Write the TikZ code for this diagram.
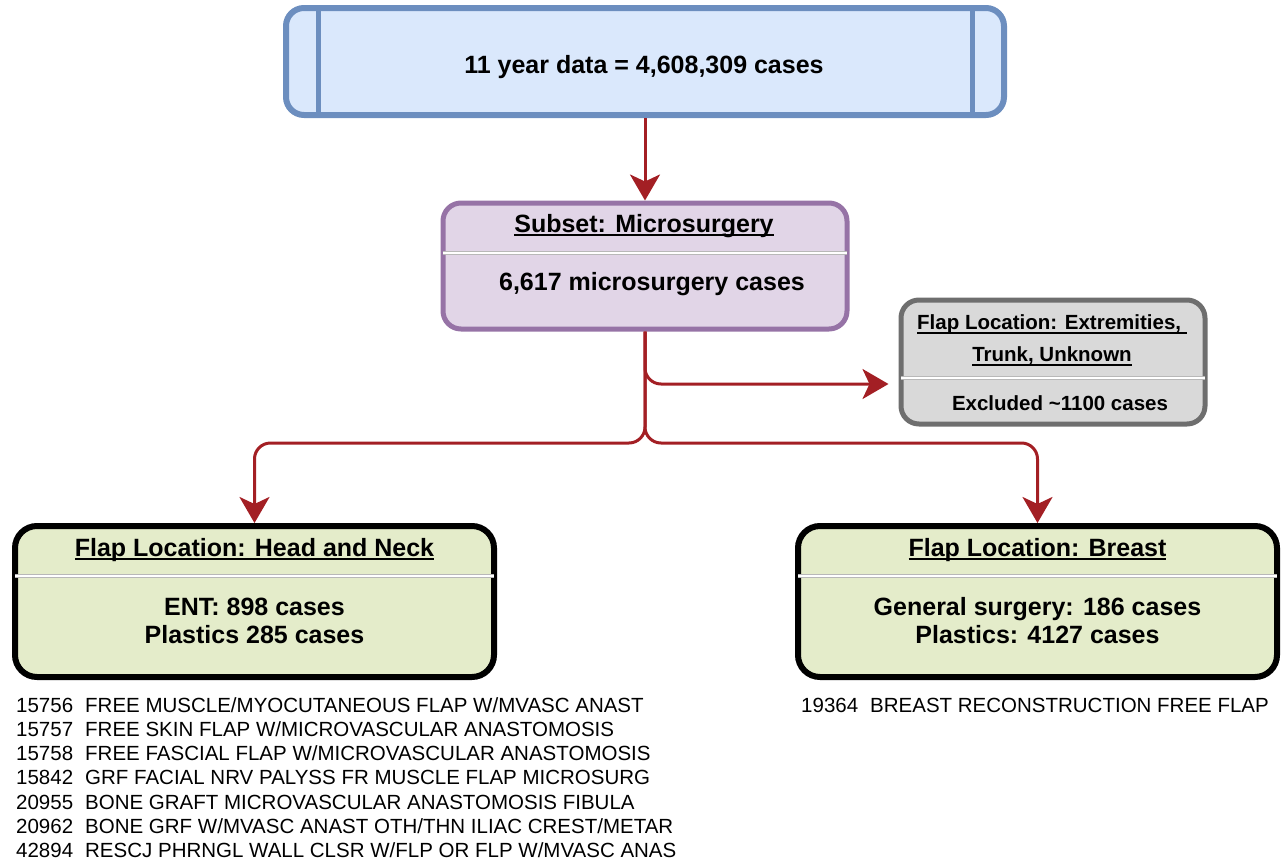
\documentclass[tikz,border=0pt]{standalone}
\usepackage{fontspec}
\setmainfont{Liberation Sans}
\usetikzlibrary{arrows.meta}
\definecolor{bluefill}{HTML}{DAE8FC}
\definecolor{bluedraw}{HTML}{6C8EBF}
\definecolor{purfill}{HTML}{E1D5E7}
\definecolor{purdraw}{HTML}{9673A6}
\definecolor{grayfill}{HTML}{D9D9D9}
\definecolor{graydraw}{HTML}{6E6E6E}
\definecolor{grnfill}{HTML}{E4ECCA}
\definecolor{arrred}{HTML}{A31F24}
\newcommand\myul[1]{\leavevmode\setbox0\hbox{#1}\rlap{\rule[-4pt]{\wd0}{2pt}}\box0}
\tikzset{
  box/.style={rectangle, inner sep=0pt},
  bigtxt/.style={inner sep=0pt, font=\fontsize{25}{30}\selectfont\bfseries},
  midtxt/.style={inner sep=0pt, font=\fontsize{20.5}{24}\selectfont\bfseries},
  listtxt/.style={inner sep=0pt, anchor=base west, font=\fontsize{20.5}{24}\selectfont},
  sepgray/.style={line width=3.5pt, draw=black!28},
  sepwhite/.style={line width=1.2pt, draw=white},
  arr/.style={draw=arrred, line width=3pt, rounded corners=16pt,
    -{Stealth[length=26pt,width=30pt,inset=7pt]}},
}
\begin{document}
\begin{tikzpicture}[x=1pt,y=-1pt]
\useasboundingbox (0,0) rectangle (1283,865);

% top box
\node[box, fill=bluefill, draw=bluedraw, line width=6pt, rounded corners=18pt,
  minimum width=718pt, minimum height=107pt] (top) at (645,61.5) {};
\draw[bluedraw, line width=5pt] ([xshift=35pt]top.north west) -- ([xshift=35pt]top.south west);
\draw[bluedraw, line width=5pt] ([xshift=-35pt]top.north east) -- ([xshift=-35pt]top.south east);
\node[bigtxt, anchor=base] (toptxt) at (644,73) {11 year data = 4,608,309 cases};

% purple box
\node[box, fill=purfill, draw=purdraw, line width=5pt, rounded corners=18pt,
  minimum width=404pt, minimum height=126pt] (pur) at (645,266) {};
\draw[sepgray] (443,253) -- (847,253);
\draw[sepwhite] (443,253) -- (847,253);
\node[bigtxt, anchor=base] (purtitle) at (644,232) {\myul{Subset: Microsurgery}};
\node[bigtxt, anchor=base] (purbody) at (652,290) {6,617 microsurgery cases};

% gray box
\node[box, fill=grayfill, draw=graydraw, line width=5pt, rounded corners=18pt,
  minimum width=304pt, minimum height=124pt] (gray) at (1053,362) {};
\draw[sepgray] (901,378) -- (1205,378);
\draw[sepwhite] (901,378) -- (1205,378);
\node[midtxt, anchor=base] (graytitleA) at (1052,329.5) {\myul{Flap Location: Extremities,\ }};
\node[midtxt, anchor=base] (graytitleB) at (1052,361.5) {\myul{Trunk, Unknown}};
\node[midtxt, anchor=base] (graybody) at (1060,410.5) {Excluded \textasciitilde1100 cases};

% left green box
\node[box, fill=grnfill, draw=black, line width=6pt, rounded corners=22pt,
  minimum width=479pt, minimum height=151pt] (hn) at (254.5,601.5) {};
\draw[sepgray] (15,576) -- (494,576);
\draw[sepwhite] (15,576) -- (494,576);
\node[bigtxt, anchor=base] (hntitle) at (254.5,556) {\myul{Flap Location: Head and Neck}};
\node[bigtxt, anchor=base] (hnbodyA) at (254.5,615) {ENT: 898 cases};
\node[bigtxt, anchor=base] (hnbodyB) at (254.5,643) {Plastics 285 cases};

% right green box
\node[box, fill=grnfill, draw=black, line width=6pt, rounded corners=22pt,
  minimum width=479pt, minimum height=151pt] (br) at (1037.5,601.5) {};
\draw[sepgray] (798,576) -- (1277,576);
\draw[sepwhite] (798,576) -- (1277,576);
\node[bigtxt, anchor=base] (brtitle) at (1037.5,556) {\myul{Flap Location: Breast}};
\node[bigtxt, anchor=base] (brbodyA) at (1037.5,615) {General surgery: 186 cases};
\node[bigtxt, anchor=base] (brbodyB) at (1037.5,643) {Plastics: 4127 cases};

% code lists
\foreach \t [count=\i] in {
  {15756\hspace{12pt}FREE MUSCLE/MYOCUTANEOUS FLAP W/MVASC ANAST},
  {15757\hspace{12pt}FREE SKIN FLAP W/MICROVASCULAR ANASTOMOSIS},
  {15758\hspace{12pt}FREE FASCIAL FLAP W/MICROVASCULAR ANASTOMOSIS},
  {15842\hspace{12pt}GRF FACIAL NRV PALYSS FR MUSCLE FLAP MICROSURG},
  {20955\hspace{12pt}BONE GRAFT MICROVASCULAR ANASTOMOSIS FIBULA},
  {20962\hspace{12pt}BONE GRF W/MVASC ANAST OTH/THN ILIAC CREST/METAR},
  {42894\hspace{12pt}RESCJ PHRNGL WALL CLSR W/FLP OR FLP W/MVASC ANAS}}
  \node[listtxt] (code\i) at (16,{712+24.3*(\i-1)}) {\t};
\node[listtxt] (codebr) at (801,712) {19364\hspace{12pt}BREAST RECONSTRUCTION FREE FLAP};

% connectors
\coordinate (split) at (645,443);
\draw[arr] (top.south) -- (pur.north);
\draw[arr, shorten >=10pt] (pur.south) |- ([yshift=-22pt]gray.west);
\draw[arr] (pur.south) -- (split) -| (hn.north);
\draw[arr] (pur.south) -- (split) -| (br.north);
\end{tikzpicture}
\end{document}
